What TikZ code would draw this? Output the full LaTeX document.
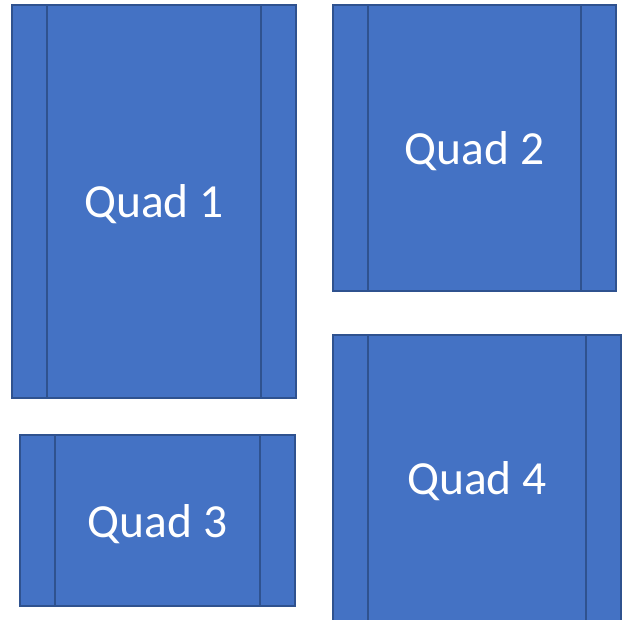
\documentclass[tikz,border=0pt]{standalone}
\usepackage{fontspec}
\setmainfont{Carlito}
\usetikzlibrary{calc}
\definecolor{qfill}{HTML}{4472C4}
\definecolor{qedge}{HTML}{2F528F}
\tikzset{
  quadbox/.style = {draw=qedge, fill=qfill, line width=1.6pt, rectangle,
                    inner sep=0pt, text=white, align=center, text depth=0pt,
                    font=\fontsize{47.5}{52}\selectfont},
  sideline/.style = {draw=qedge, line width=1.6pt},
}
\begin{document}
\begin{tikzpicture}[x=1pt,y=-1pt]
\useasboundingbox (0,0) rectangle (629,619);
\node[quadbox,minimum width=284pt,minimum height=393pt] (quadA) at (154,201.5) {Quad 1};
\node[quadbox,minimum width=283pt,minimum height=286pt] (quadB) at (474.5,148) {Quad 2};
\node[quadbox,minimum width=275pt,minimum height=171pt] (quadC) at (157.5,520.5) {Quad 3};
\node[quadbox,minimum width=288pt,minimum height=286pt] (quadD) at (477,478) {Quad 4};
% inner side bars
\foreach \q in {quadA,quadB,quadC,quadD}{
  \draw[sideline] ($(\q.north west)+(36,0)$) -- ($(\q.south west)+(36,0)$);
  \draw[sideline] ($(\q.north east)+(-36,0)$) -- ($(\q.south east)+(-36,0)$);}
\end{tikzpicture}
\end{document}
